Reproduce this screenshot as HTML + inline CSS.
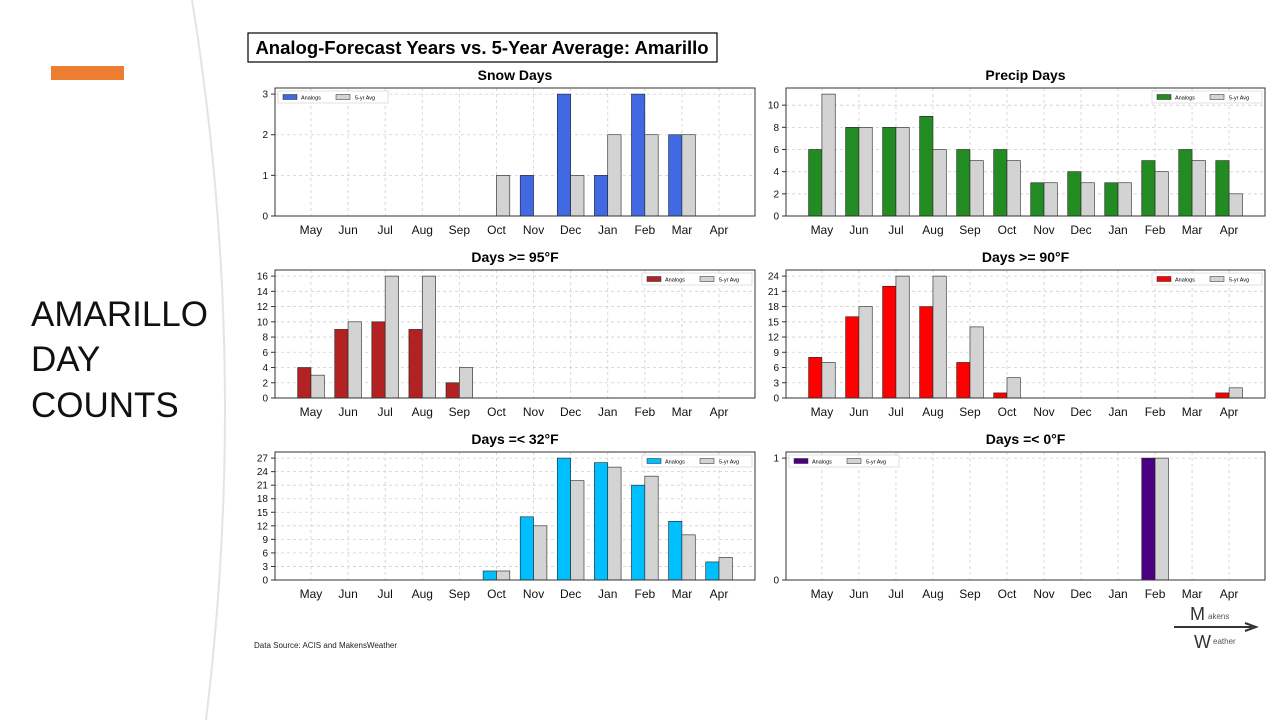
<!DOCTYPE html>
<html><head><meta charset="utf-8">
<style>
html,body{margin:0;padding:0;background:#fff;}
body{width:1280px;height:720px;overflow:hidden;position:relative;font-family:"Liberation Sans",sans-serif;}
svg text{font-family:"Liberation Sans",sans-serif;}
</style></head>
<body>
<svg id="s" width="1280" height="720" viewBox="0 0 1280 720" xmlns="http://www.w3.org/2000/svg">
  <path d="M192,0 Q250,360 206,720" fill="none" stroke="#e4e4e4" stroke-width="2"/>
  <rect x="51" y="66" width="73" height="14" fill="#ed7d31"/>
  <text x="31" y="326" font-size="35" fill="#111">AMARILLO</text>
  <text x="31" y="371" font-size="35" fill="#111">DAY</text>
  <text x="31" y="417" font-size="35" fill="#111">COUNTS</text>
  <rect x="248" y="33" width="469" height="29" fill="#fff" stroke="#000" stroke-width="1.2"/>
  <text x="482" y="54" font-size="18.5" font-weight="bold" text-anchor="middle">Analog-Forecast Years vs. 5-Year Average: Amarillo</text>
  <text x="254" y="648" font-size="8" fill="#222">Data Source: ACIS and MakensWeather</text>
  <g>
    <line x1="1174" y1="627" x2="1252" y2="627" stroke="#333" stroke-width="2"/>
    <path d="M1245,623 L1256,627 L1245,631" fill="none" stroke="#333" stroke-width="2"/>
    <text x="1190" y="620" font-size="18" fill="#333" font-family="Liberation Serif">M</text>
    <text x="1208" y="619" font-size="8" fill="#555">akens</text>
    <text x="1194" y="648" font-size="18" fill="#333" font-family="Liberation Serif">W</text>
    <text x="1213" y="644" font-size="8" fill="#555">eather</text>
  </g>
  <g id="charts"></g>
</svg>
<script>
const months=["May","Jun","Jul","Aug","Sep","Oct","Nov","Dec","Jan","Feb","Mar","Apr"];
const snowAnalogs=[0,0,0,0,0,0,1,3,1,3,2,0];
const snowAvg=[0,0,0,0,0,1,0,1,2,2,2,0];
const snowTicks=[0,1,2,3];
const precipAnalogs=[6,8,8,9,6,6,3,4,3,5,6,5];
const precipAvg=[11,8,8,6,5,5,3,3,3,4,5,2];
const precipTicks=[0,2,4,6,8,10];
const d95Analogs=[4,9,10,9,2,0,0,0,0,0,0,0];
const d95Avg=[3,10,16,16,4,0,0,0,0,0,0,0];
const d95Ticks=[0,2,4,6,8,10,12,14,16];
const d90Analogs=[8,16,22,18,7,1,0,0,0,0,0,1];
const d90Avg=[7,18,24,24,14,4,0,0,0,0,0,2];
const d90Ticks=[0,3,6,9,12,15,18,21,24];
const d32Analogs=[0,0,0,0,0,2,14,27,26,21,13,4];
const d32Avg=[0,0,0,0,0,2,12,22,25,23,10,5];
const d32Ticks=[0,3,6,9,12,15,18,21,24,27];
const d0Analogs=[0,0,0,0,0,0,0,0,0,1,0,0];
const d0Avg=[0,0,0,0,0,0,0,0,0,1,0,0];
const d0Ticks=[0,1];

const NS="http://www.w3.org/2000/svg";
const root=document.getElementById('charts');
function mk(tag,attrs,parent){const e=document.createElementNS(NS,tag);for(const k in attrs)e.setAttribute(k,attrs[k]);parent.appendChild(e);return e;}

function chart(cfg){
  const g=mk('g',{},root);
  
  
  const L=cfg.x,R=cfg.x+cfg.w,T=cfg.y,B=cfg.y+128;
  const ymax=Math.max(...cfg.a,...cfg.b,1)*1.05;
  const xs=i=>L+(i+0.97)/12.94*(R-L);
  const ys=v=>B-v/ymax*(B-T);
  const bw=0.36/12.94*(R-L);
  const t=mk('text',{x:(L+R)/2,y:T-8,'font-size':14,'font-weight':'bold','text-anchor':'middle'},g);
  t.textContent=cfg.title;
  
  
  months.forEach((m,i)=>{
    const ln=mk('line',{x1:xs(i),x2:xs(i),y1:T,y2:B,stroke:'#d0d0d0','stroke-dasharray':'3,3','stroke-width':0.8},g);
    
    
    const tx=mk('text',{x:xs(i),y:B+18,'font-size':12,'text-anchor':'middle',fill:'#111'},g);
    tx.textContent=m;
    
    
  });
  cfg.ticks.forEach(v=>{
    const ln=mk('line',{x1:L,x2:R,y1:ys(v),y2:ys(v),stroke:'#d0d0d0','stroke-dasharray':'3,3','stroke-width':0.8},g);
    
    
    mk('line',{x1:L-4,x2:L,y1:ys(v),y2:ys(v),stroke:'#333'},g);
    const tx=mk('text',{x:L-7,y:ys(v)+3.5,'font-size':10,'text-anchor':'end',fill:'#111'},g);
    tx.textContent=v;
    
    
  });
  cfg.a.forEach((v,i)=>{
    const r=mk('rect',{x:xs(i)-bw,y:ys(v),width:bw,height:B-ys(v),fill:cfg.color,stroke:'#222','stroke-width':v?0.6:0},g);
    
    
  });
  cfg.b.forEach((v,i)=>{
    const r=mk('rect',{x:xs(i),y:ys(v),width:bw,height:B-ys(v),fill:'#d3d3d3',stroke:'#222','stroke-width':v?0.6:0},g);
    
    
  });
  mk('rect',{x:L,y:T,width:R-L,height:B-T,fill:'none',stroke:'#333','stroke-width':1},g);
  const lx=cfg.legendRight?R-113:L+3,ly=T+3;
  const lg=mk('g',{},g);
  
  
  mk('rect',{x:lx,y:ly,width:110,height:12,fill:'#fff',stroke:'#ccc','stroke-width':0.6},lg);
  mk('rect',{x:lx+5,y:ly+3.5,width:14,height:5,fill:cfg.color,stroke:'#222','stroke-width':0.5},lg);
  const t1=mk('text',{x:lx+23,y:ly+8.5,'font-size':5.5},lg);t1.textContent='Analogs';
  mk('rect',{x:lx+58,y:ly+3.5,width:14,height:5,fill:'#d3d3d3',stroke:'#222','stroke-width':0.5},lg);
  const t2=mk('text',{x:lx+77,y:ly+8.5,'font-size':5.5},lg);t2.textContent='5-yr Avg';
}
chart({name:'snow-days-chart',title:'Snow Days',x:275,w:480,y:88,a:snowAnalogs,b:snowAvg,ticks:snowTicks,color:'#4169e1',legendRight:false});
chart({name:'precip-days-chart',title:'Precip Days',x:786,w:479,y:88,a:precipAnalogs,b:precipAvg,ticks:precipTicks,color:'#228b22',legendRight:true});
chart({name:'days-95f-chart',title:'Days >= 95°F',x:275,w:480,y:270,a:d95Analogs,b:d95Avg,ticks:d95Ticks,color:'#b22222',legendRight:true});
chart({name:'days-90f-chart',title:'Days >= 90°F',x:786,w:479,y:270,a:d90Analogs,b:d90Avg,ticks:d90Ticks,color:'#ff0000',legendRight:true});
chart({name:'days-32f-chart',title:'Days =< 32°F',x:275,w:480,y:452,a:d32Analogs,b:d32Avg,ticks:d32Ticks,color:'#00bfff',legendRight:true});
chart({name:'days-0f-chart',title:'Days =< 0°F',x:786,w:479,y:452,a:d0Analogs,b:d0Avg,ticks:d0Ticks,color:'#4b0082',legendRight:false});
</script>
</body></html>
